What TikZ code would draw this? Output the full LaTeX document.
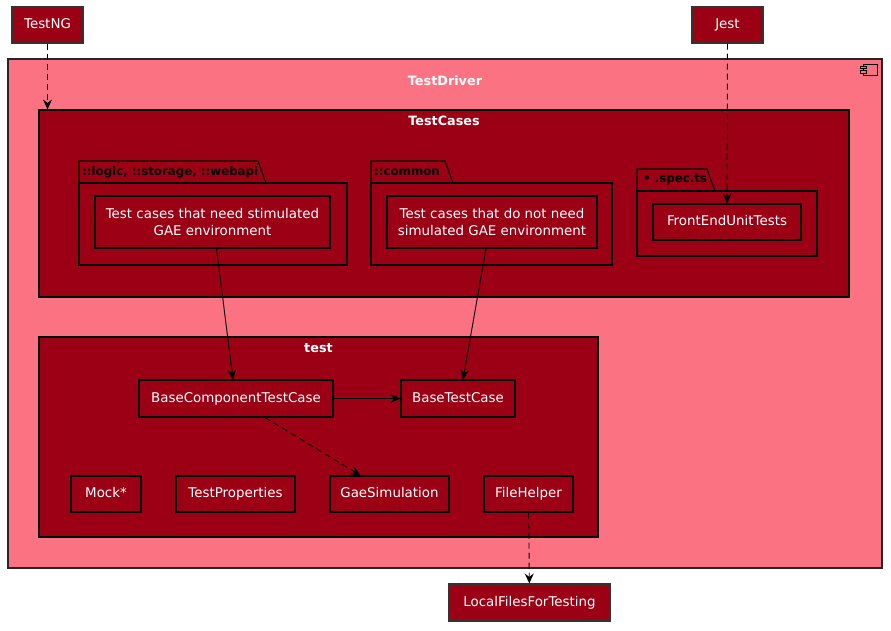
\documentclass[tikz,border=0pt]{standalone}
\usepackage{fontspec}
\setmainfont{DejaVu Sans}
\usetikzlibrary{positioning}
\usetikzlibrary{arrows.meta}
\definecolor{umlred}{RGB}{155,0,20}
\definecolor{umlpink}{RGB}{251,115,131}

\begin{document}
\begin{tikzpicture}[x=1pt, y=-1pt,
    box/.style={draw=black, fill=umlred, text=white, line width=1.1pt, inner sep=0pt, align=center, font=\fontsize{13.4}{16.5}\selectfont},
    onebox/.style={box, text height=10pt, text depth=3pt},
    outer/.style={onebox, draw=black!80},
    frame/.style={draw=black, line width=1.1pt, inner sep=0pt},
    title/.style={text=white, font=\bfseries\fontsize{12.8}{15}\selectfont},
    pkgtitle/.style={text=black, anchor=west, inner sep=0pt, font=\bfseries\fontsize{11.8}{14}\selectfont},
    dep/.style={-{Stealth[length=10pt, width=9pt, inset=3.5pt]}, line width=0.9pt},
    use/.style={dep, dash pattern=on 6pt off 4pt}]

    \useasboundingbox (0,0) rectangle (891,630);

    % containers
    \node(driver)[frame, fill=umlpink, draw=black!85, minimum width=874, minimum height=509] at (445,313.5) {};
    \node[title] at (445,81) {TestDriver};
    \draw[line width=0.8pt, fill=umlpink] (863,64) rectangle (877,75);
    \draw[line width=0.8pt, fill=umlpink] (860,66) rectangle (866,68.5) (860,70.5) rectangle (866,73);

    \node(cases)[frame, fill=umlred, minimum width=810, minimum height=187] at (444,203.5) {};
    \node[title] at (444,121) {TestCases};

    \node(tst)[frame, fill=umlred, minimum width=559, minimum height=200] at (318.5,437) {};
    \node[title] at (318.5,348) {test};

    % packages
    \draw[frame, fill=umlred] (79,183) -- (79,161) -- (258,161) -- (266,183);
    \node(pkgA)[frame, fill=umlred, minimum width=268, minimum height=82] at (213,224) {};
    \node[pkgtitle] at (82,172) {::logic, ::storage, ::webapi};

    \draw[frame, fill=umlred] (371,183) -- (371,161) -- (445,161) -- (453,183);
    \node(pkgB)[frame, fill=umlred, minimum width=241, minimum height=82] at (491.5,224) {};
    \node[pkgtitle] at (374,172) {::common};

    \draw[frame, fill=umlred] (637,191) -- (637,169) -- (707,169) -- (715,191);
    \node(pkgC)[frame, fill=umlred, minimum width=180, minimum height=65] at (727,223.5) {};
    \node[pkgtitle] at (643,180) {• .spec.ts};

    % components
    \node(need)[box, minimum width=235, minimum height=52] at (212.5,222) {Test cases that need stimulated\\GAE environment};
    \node(noneed)[box, minimum width=210, minimum height=52] at (492,222) {Test cases that do not need\\simulated GAE environment};
    \node(front)[onebox, minimum width=148, minimum height=36] at (727,222) {FrontEndUnitTests};

    \node(bct)[onebox, minimum width=194, minimum height=37] at (236,398.5) {BaseComponentTestCase};
    \node(btc)[onebox, minimum width=114, minimum height=37] at (458,398.5) {BaseTestCase};

    \node(mock)[onebox, minimum width=70, minimum height=36] at (106,494) {Mock*};
    \node(props)[onebox, minimum width=119, minimum height=36] at (235.5,494) {TestProperties};
    \node(gae)[onebox, minimum width=119, minimum height=36] at (389.5,494) {GaeSimulation};
    \node(fh)[onebox, minimum width=89, minimum height=36] at (528.5,494) {FileHelper};

    \node(testng)[outer, minimum width=71, minimum height=36] at (47.5,25) {TestNG};
    \node(jest)[outer, minimum width=71, minimum height=36] at (727.5,25) {Jest};
    \node(local)[outer, minimum width=161, minimum height=37] at (529.5,602.5) {LocalFilesForTesting};

    \draw[use] (testng) -- (testng.south |- cases.north);
    \draw[use] (jest) -- (front);
    \draw[dep] ([xshift=4pt]need.south) -- ([xshift=-3pt]bct.north);
    \draw[dep] ([xshift=-6pt]noneed.south) -- ([xshift=5pt]btc.north);
    \draw[dep] (bct) -- (btc);
    \draw[use] ([xshift=29pt]bct.south) -- ([xshift=-29pt]gae.north);
    \draw[use] (fh) -- (local);

\end{tikzpicture}
\end{document}
